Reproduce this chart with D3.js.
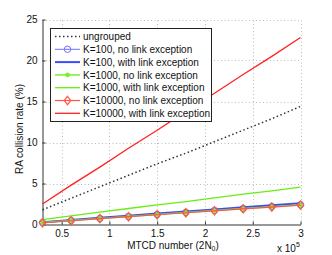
<!DOCTYPE html>
<html>
<head>
<meta charset="utf-8">
<script src="https://cdn.jsdelivr.net/npm/d3@7"></script>
<style>
body { margin: 0; background: #fff; }
text { font-family: "Liberation Sans", Arial, sans-serif; }
</style>
</head>
<body>
<div id="chart"></div>
<script>

// MTCD number in units of 1e5
var mtcd = [0.3, 0.6, 0.9, 1.2, 1.5, 1.8, 2.1, 2.4, 2.7, 3.0];

// collision rate (%)
var ungrouped    = [1.8, 3.2, 4.6, 6.0, 7.4, 8.7, 10.1, 11.5, 12.9, 14.4];
var k100NoLink   = [0.24, 0.49, 0.74, 0.99, 1.23, 1.48, 1.72, 1.96, 2.2, 2.42];
var k100Link     = [0.28, 0.54, 0.81, 1.07, 1.33, 1.59, 1.84, 2.1, 2.35, 2.6];
var k1000NoLink  = [0.23, 0.48, 0.73, 0.97, 1.21, 1.46, 1.7, 1.94, 2.17, 2.4];
var k1000Link    = [0.6, 1.05, 1.5, 1.95, 2.4, 2.8, 3.25, 3.7, 4.1, 4.55];
var k10000NoLink = [0.21, 0.46, 0.71, 0.95, 1.19, 1.43, 1.67, 1.9, 2.13, 2.36];
var k10000Link   = [2.5, 4.8, 7.0, 9.3, 11.5, 13.8, 16.0, 18.3, 20.5, 22.8];

var xTicks = [0.5, 1, 1.5, 2, 2.5, 3];
var yTicks = [0, 5, 10, 15, 20, 25];

var series = [
	{name: "ungrouped", values: ungrouped, color: "#333", width: 1.5, dash: "1.5,2.5", marker: null},
	{name: "K=100, no link exception", values: k100NoLink, color: "#6f6fff", width: 1, marker: "circle"},
	{name: "K=100, with link exception", values: k100Link, color: "#3a4cff", width: 2, marker: null},
	{name: "K=1000, no link exception", values: k1000NoLink, color: "#77ee33", width: 1.5, marker: "star"},
	{name: "K=1000, with link exception", values: k1000Link, color: "#66ee11", width: 1.3, marker: null},
	{name: "K=10000, no link exception", values: k10000NoLink, color: "#ff5544", width: 1.2, marker: "diamond"},
	{name: "K=10000, with link exception", values: k10000Link, color: "#ff2222", width: 1.3, marker: null}
];

var width = 332, height = 255;

var svg = d3.select("#chart")
	.append("svg")
	.attr("width", width)
	.attr("height", height);

var x = d3.scaleLinear().domain([0.3, 3]).range([42.5, 300.5]);
var y = d3.scaleLinear().domain([0, 25]).range([224.5, 19.5]);

// grid
var grid = svg.append("g")
	.attr("stroke", "#aaa")
	.attr("stroke-width", 0.8)
	.attr("stroke-dasharray", "1,2.5");

grid.selectAll(".gx")
	.data(xTicks)
	.enter()
	.append("line")
	.attr("x1", function(d){ return Math.round(x(d)) + 0.5; })
	.attr("x2", function(d){ return Math.round(x(d)) + 0.5; })
	.attr("y1", y(0))
	.attr("y2", y(25));

grid.selectAll(".gy")
	.data(yTicks.slice(1))
	.enter()
	.append("line")
	.attr("y1", function(d){ return Math.round(y(d)) + 0.5; })
	.attr("y2", function(d){ return Math.round(y(d)) + 0.5; })
	.attr("x1", x(0.3))
	.attr("x2", x(3));

// axes
var xAxis = d3.axisBottom(x)
	.tickValues(xTicks)
	.tickFormat(d3.format("~g"))
	.tickSizeInner(-3)
	.tickSizeOuter(0)
	.tickPadding(5);

var yAxis = d3.axisLeft(y)
	.tickValues(yTicks)
	.tickFormat(d3.format("d"))
	.tickSizeInner(-3)
	.tickSizeOuter(0)
	.tickPadding(5);

var gx = svg.append("g")
	.attr("transform", "translate(0," + y(0) + ")")
	.call(xAxis);

var gy = svg.append("g")
	.attr("transform", "translate(" + x(0.3) + ",0)")
	.call(yAxis);

[gx, gy].forEach(function(g){
	g.selectAll("path, line").attr("stroke", "#333");
	g.selectAll("text")
		.attr("fill", "#111")
		.style("font-size", "10px")
		.style("font-family", "'Liberation Sans', Arial, sans-serif");
});

// lines
var line = d3.line()
	.x(function(d, i){ return x(mtcd[i]); })
	.y(function(d){ return y(d); });

function drawMarker(g, type, color, cx, cy) {
	if (type === "circle") {
		g.append("circle")
			.attr("cx", cx).attr("cy", cy).attr("r", 3.2)
			.attr("fill", "none").attr("stroke", color).attr("stroke-width", 1);
	} else if (type === "diamond") {
		g.append("path")
			.attr("d", "M" + cx + "," + (cy - 4.2) + "L" + (cx + 3.2) + "," + cy + "L" + cx + "," + (cy + 4.2) + "L" + (cx - 3.2) + "," + cy + "Z")
			.attr("fill", "none").attr("stroke", color).attr("stroke-width", 1.2);
	} else if (type === "star") {
		g.append("path")
			.attr("d", d3.symbol().type(d3.symbolAsterisk).size(16)())
			.attr("transform", "translate(" + cx + "," + cy + ")")
			.attr("fill", "none").attr("stroke", color).attr("stroke-width", 1.6);
	}
}

series.forEach(function(s){
	var g = svg.append("g");
	g.append("path")
		.datum(s.values)
		.attr("d", line)
		.attr("fill", "none")
		.attr("stroke", s.color)
		.attr("stroke-width", s.width)
		.attr("stroke-dasharray", s.dash || null);
	if (s.marker) {
		s.values.forEach(function(v, i){
			drawMarker(g, s.marker, s.color, x(mtcd[i]), y(v));
		});
	}
});

// legend
var legend = svg.append("g");

legend.append("rect")
	.attr("x", 50.5)
	.attr("y", 28.5)
	.attr("width", 161)
	.attr("height", 93)
	.attr("fill", "#fff")
	.attr("stroke", "#222")
	.attr("stroke-width", 1);

series.forEach(function(s, i){
	var ly = 36.5 + i * 12.8;
	legend.append("line")
		.attr("x1", 55).attr("x2", 80)
		.attr("y1", ly).attr("y2", ly)
		.attr("stroke", s.color)
		.attr("stroke-width", s.width)
		.attr("stroke-dasharray", s.dash || null);
	if (s.marker) drawMarker(legend, s.marker, s.color, 67.5, ly);
	legend.append("text")
		.attr("x", 83)
		.attr("y", ly + 3.6)
		.style("font-size", "10px")
		.attr("fill", "#111")
		.text(s.name);
});

// axis labels
var xl = svg.append("text")
	.attr("x", 173)
	.attr("y", 248.5)
	.attr("text-anchor", "middle")
	.style("font-size", "10px")
	.attr("fill", "#111");
xl.append("tspan").text("MTCD number (2N");
xl.append("tspan").attr("dy", 2.5).style("font-size", "7px").text("0");
xl.append("tspan").attr("dy", -2.5).text(")");

var ex = svg.append("text")
	.attr("x", 277)
	.attr("y", 252)
	.style("font-size", "10px")
	.attr("fill", "#111");
ex.append("tspan").text("x 10");
ex.append("tspan").attr("dy", -5).style("font-size", "7px").text("5");

svg.append("text")
	.attr("transform", "translate(23," + 129 + ") rotate(-90)")
	.attr("text-anchor", "middle")
	.style("font-size", "10px")
	.attr("fill", "#111")
	.text("RA collision rate (%)");

</script>
</body>
</html>
